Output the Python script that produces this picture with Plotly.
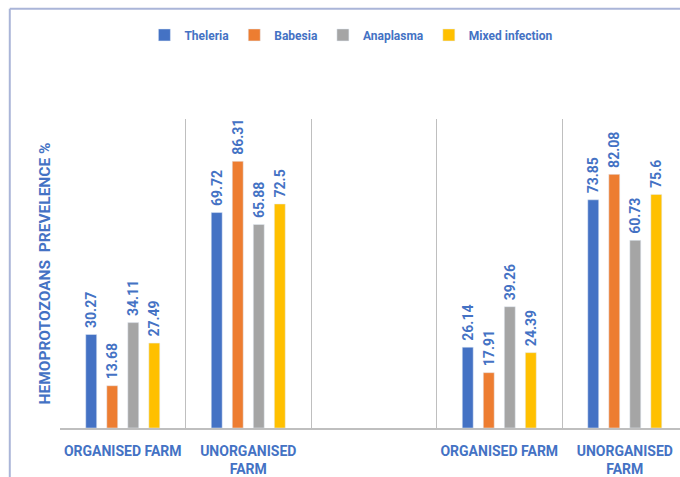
import plotly.graph_objects as go

categories = ["ORGANISED FARM", "UNORGANISED<br>FARM", "", "ORGANISED FARM", "UNORGANISED<br>FARM"]
series_names = ["Theleria", "Babesia", "Anaplasma", "Mixed infection"]
theleria = [30.27, 69.72, None, 26.14, 73.85]
babesia = [13.68, 86.31, None, 17.91, 82.08]
anaplasma = [34.11, 65.88, None, 39.26, 60.73]
mixed = [27.49, 72.5, None, 24.39, 75.6]
colors = ["#4472C4", "#ED7D31", "#A5A5A5", "#FFC000"]

label_blue = "#4472C4"
positions = list(range(len(categories)))

fig = go.Figure()
for name, vals, col in zip(series_names, [theleria, babesia, anaplasma, mixed], colors):
    fig.add_trace(go.Bar(
        x=positions, y=vals, name=name, marker_color=col,
        text=[("" if v is None else "\u00a0" + f"{v:g}") for v in vals],
        textposition="outside", textangle=-90, constraintext="none",
        textfont=dict(family="Roboto", size=14, color=label_blue, weight="bold"),
        cliponaxis=False,
    ))

fig.update_layout(
    width=680, height=477,
    margin=dict(l=60, r=0, t=119, b=49),
    paper_bgcolor="white", plot_bgcolor="white",
    barmode="group", bargap=0.33, bargroupgap=0.48,
    showlegend=True,
    legend=dict(orientation="h", x=0.47, xanchor="center", y=1.272, yanchor="middle",
                font=dict(family="Roboto", size=12, color=label_blue, weight="bold"),
                itemwidth=30, bgcolor="rgba(0,0,0,0)"),
    font=dict(family="Roboto", color=label_blue),
)
fig.update_xaxes(
    range=[-0.5, 4.44], tickvals=positions, ticktext=categories,
    tickfont=dict(family="Roboto", size=14, color=label_blue, weight="bold"),
    ticks="outside", ticklen=9, tickcolor="rgba(0,0,0,0)",
    showgrid=False, zeroline=False,
    showline=True, linecolor="#BFBFBF", linewidth=1.5,
    minor=dict(tickmode="array", tickvals=[-0.5, 0.5, 1.5, 2.5, 3.5, 4.5], showgrid=True,
               gridcolor="#BFBFBF", gridwidth=1, ticks=""),
)
fig.update_yaxes(
    range=[0, 100], showticklabels=False, showgrid=False, zeroline=False, showline=False,
    title=dict(text="HEMOPROTOZOANS  PREVELENCE %", standoff=4,
               font=dict(family="Roboto", size=15.5, color=label_blue, weight="bold")),
)
# outer chart border (top and left edges visible)
fig.add_shape(type="line", xref="paper", yref="paper", x0=-0.081, x1=1.05, y0=1.357, y1=1.357,
              line=dict(color="#AAB5D8", width=2))
fig.add_shape(type="line", xref="paper", yref="paper", x0=-0.081, x1=-0.081, y0=-0.3, y1=1.357,
              line=dict(color="#AAB5D8", width=2))

fig.write_html("out.html")
